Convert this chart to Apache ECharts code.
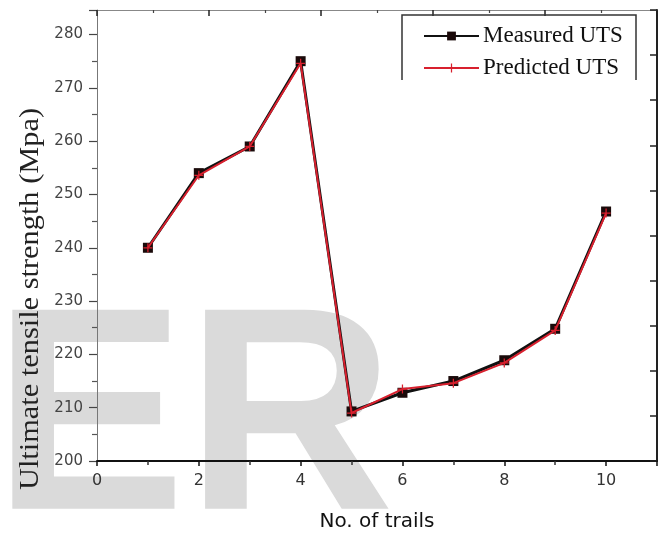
<!DOCTYPE html>
<html>
<head>
<meta charset="utf-8">
<script src="https://cdn.jsdelivr.net/npm/echarts@6/dist/echarts.min.js"></script>
<style>
html,body{margin:0;padding:0;background:#fff;}
#chart{width:665px;height:533px;}
</style>
</head>
<body>
<div id="chart"></div>
<script>
var trials = [1, 2, 3, 4, 5, 6, 7, 8, 9, 10];
var measuredUTS = [240, 254, 259, 275, 209.3, 212.8, 215, 218.9, 224.8, 246.8];
var predictedUTS = [240, 253.6, 259, 274.6, 209, 213.5, 214.6, 218.4, 224.5, 246.5];
var seriesNames = ['Measured UTS', 'Predicted UTS'];
var xAxisName = 'No. of trails';
var yAxisName = 'Ultimate tensile strength (Mpa)';
var watermark = 'ER';

function pairs(xs, ys) { return xs.map(function (x, i) { return [x, ys[i]]; }); }

var chart = echarts.init(document.getElementById('chart'));
var plusPath = 'path://M4.3,0h1.4v10h-1.4z M0,4.3h10v1.4h-10z';

chart.setOption({
  animation: false,
  backgroundColor: '#fff',
  grid: { left: 97, right: 8, top: 10, bottom: 72, containLabel: false, outerBoundsMode: 'none' },
  graphic: [
    {
      type: 'text', z: -100, zlevel: 0, silent: true,
      style: { text: watermark, x: -7, y: 429, font: 'bold 289px "Liberation Sans"', fill: '#dadada', textAlign: 'left', textVerticalAlign: 'middle' }
    },
    {
      type: 'text', z: 100, silent: true, x: 31, y: 299, rotation: Math.PI / 2, scaleX: 1.125,
      style: { text: yAxisName, x: 0, y: 0, font: '27px "Liberation Serif"', fill: '#222', textAlign: 'center', textVerticalAlign: 'middle' }
    },
    {
      type: 'polyline', z: 100, silent: true,
      shape: { points: [[402, 80], [402, 15], [636, 15], [636, 80]] },
      style: { stroke: '#333', lineWidth: 1.5, fill: null }
    }
  ],
  legend: {
    orient: 'vertical', left: 423, top: 24, padding: 0, itemWidth: 55, itemHeight: 11, itemGap: 8,
    textStyle: { fontFamily: 'Liberation Serif', fontSize: 23, color: '#111', lineHeight: 24, padding: [0, 0, 0, -1] },
    data: seriesNames
  },
  xAxis: [
    {
      type: 'value', position: 'bottom', min: 0, max: 11, interval: 2,
      name: xAxisName, nameLocation: 'middle', nameGap: 51,
      nameTextStyle: { fontFamily: 'DejaVu Sans', fontSize: 20, color: '#111' },
      axisLine: { show: true, lineStyle: { color: '#111', width: 2 } },
      axisTick: { show: true, inside: false, length: 5, lineStyle: { color: '#111', width: 1.5 } },
      minorTick: { show: true, splitNumber: 2, length: 4, lineStyle: { color: '#333', width: 1.5 } },
      splitLine: { show: false },
      axisLabel: { margin: 12, fontFamily: 'DejaVu Sans', fontSize: 16, color: '#333',
        formatter: function (v) { return (v % 2 === 0 && v <= 10) ? String(v) : ''; } }
    },
    {
      type: 'value', position: 'top', min: 0, max: 5, interval: 1,
      axisLine: { show: true, onZero: false, lineStyle: { color: '#888', width: 1 } },
      axisTick: { show: true, inside: true, length: 6, lineStyle: { color: '#222', width: 1.5 } },
      minorTick: { show: true, splitNumber: 2, length: 3, lineStyle: { color: '#444', width: 1.2 } },
      splitLine: { show: false },
      axisLabel: { show: false }
    }
  ],
  yAxis: [
    {
      type: 'value', position: 'left', min: 200, max: 284.6, interval: 10,
      axisLine: { show: true, onZero: false, lineStyle: { color: '#777', width: 1 } },
      axisTick: { show: true, inside: false, length: 8, lineStyle: { color: '#444', width: 1.2 } },
      minorTick: { show: true, splitNumber: 2, length: 5, lineStyle: { color: '#555', width: 1.2 } },
      splitLine: { show: false },
      axisLabel: { margin: 14, fontFamily: 'DejaVu Sans', fontSize: 15, color: '#444',
        formatter: function (v) { return (v % 10 === 0 && v <= 280) ? String(v) : ''; } }
    },
    {
      type: 'value', position: 'right', min: 0, max: 10, interval: 1,
      axisLine: { show: true, onZero: false, lineStyle: { color: '#222', width: 2 } },
      axisTick: { show: true, inside: true, length: 7, lineStyle: { color: '#222', width: 1.5 } },
      splitLine: { show: false },
      axisLabel: { show: false }
    }
  ],
  series: [
    {
      name: seriesNames[0], type: 'line', xAxisIndex: 0, yAxisIndex: 0, z: 3,
      data: pairs(trials, measuredUTS),
      symbol: 'rect', symbolSize: 10,
      lineStyle: { color: '#111', width: 3 },
      itemStyle: { color: '#1a0a0a' }
    },
    {
      name: seriesNames[1], type: 'line', xAxisIndex: 0, yAxisIndex: 0, z: 4,
      data: pairs(trials, predictedUTS),
      symbol: plusPath, symbolSize: 9,
      lineStyle: { color: '#d8202e', width: 2 },
      itemStyle: { color: '#d8202e' }
    }
  ]
});
</script>
</body>
</html>
